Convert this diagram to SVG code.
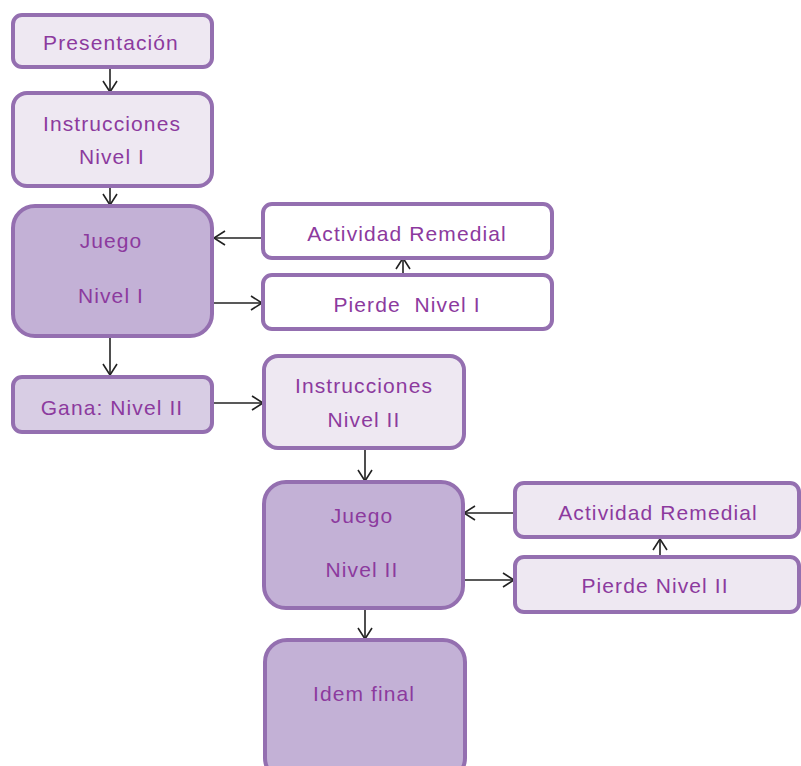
<svg xmlns="http://www.w3.org/2000/svg" width="801" height="766" viewBox="0 0 801 766">
<defs>
<marker id="arr" markerUnits="userSpaceOnUse" markerWidth="16" markerHeight="16" viewBox="-13 -8 15 16" refX="0" refY="0" orient="auto">
<path d="M-11,-7 L0,0 L-11,7" fill="none" stroke="#222" stroke-width="1.6"/>
</marker>
</defs>
<style>
.box{stroke:#946FB0;stroke-width:4}
.light{fill:#EEE8F2}
.dark{fill:#C3B1D6}
.white{fill:#FFFFFF}
.t{font-family:"Liberation Sans",Arial,sans-serif;font-size:21px;fill:#8C3A9E;text-anchor:middle;letter-spacing:1.1px}
.c{stroke:#222;stroke-width:1.6;fill:none;marker-end:url(#arr)}
</style>
<rect width="801" height="766" fill="#FFFFFF"/>
<g id="connectors">
<line class="c" x1="110" y1="68" x2="110" y2="92"/>
<line class="c" x1="110" y1="187" x2="110" y2="205"/>
<line class="c" x1="263" y1="238" x2="214" y2="238"/>
<line class="c" x1="213" y1="303" x2="262" y2="303"/>
<line class="c" x1="403" y1="274" x2="403" y2="258"/>
<line class="c" x1="110" y1="337" x2="110" y2="375"/>
<line class="c" x1="213" y1="403" x2="263" y2="403"/>
<line class="c" x1="365" y1="449" x2="365" y2="481"/>
<line class="c" x1="515" y1="513" x2="464" y2="513"/>
<line class="c" x1="463" y1="580" x2="514" y2="580"/>
<line class="c" x1="660" y1="556" x2="660" y2="539"/>
<line class="c" x1="365" y1="609" x2="365" y2="639"/>
</g>
<g id="presentacion">
<rect class="box light" x="13" y="15" width="199" height="52" rx="9"/>
<text class="t" x="111" y="50">Presentación</text>
</g>
<g id="instrucciones1">
<rect class="box light" x="13" y="93" width="199" height="93" rx="14"/>
<text class="t" x="112" y="131">Instrucciones</text>
<text class="t" x="112" y="164">Nivel I</text>
</g>
<g id="juego1">
<rect class="box dark" x="13" y="206" width="199" height="130" rx="22"/>
<text class="t" x="111" y="248">Juego</text>
<text class="t" x="111" y="303">Nivel I</text>
</g>
<g id="actividad1">
<rect class="box white" x="263" y="204" width="289" height="54" rx="9"/>
<text class="t" x="407" y="241">Actividad Remedial</text>
</g>
<g id="pierde1">
<rect class="box white" x="263" y="275" width="289" height="54" rx="9"/>
<text class="t" x="407" y="312" xml:space="preserve">Pierde  Nivel I</text>
</g>
<g id="gana">
<rect class="box dark" x="13" y="377" width="199" height="55" rx="9" style="fill:#D8CDE4"/>
<text class="t" x="112" y="415">Gana: Nivel II</text>
</g>
<g id="instrucciones2">
<rect class="box light" x="264" y="356" width="200" height="92" rx="14"/>
<text class="t" x="364" y="393">Instrucciones</text>
<text class="t" x="364" y="427">Nivel II</text>
</g>
<g id="juego2">
<rect class="box dark" x="264" y="482" width="199" height="126" rx="22"/>
<text class="t" x="362" y="523">Juego</text>
<text class="t" x="362" y="577">Nivel II</text>
</g>
<g id="actividad2">
<rect class="box light" x="515" y="483" width="284" height="54" rx="9"/>
<text class="t" x="658" y="520">Actividad Remedial</text>
</g>
<g id="pierde2">
<rect class="box light" x="515" y="557" width="284" height="55" rx="9"/>
<text class="t" x="655" y="593">Pierde Nivel II</text>
</g>
<g id="idem">
<rect class="box dark" x="265" y="640" width="200" height="140" rx="22"/>
<text class="t" x="364" y="701">Idem final</text>
</g>
</svg>
